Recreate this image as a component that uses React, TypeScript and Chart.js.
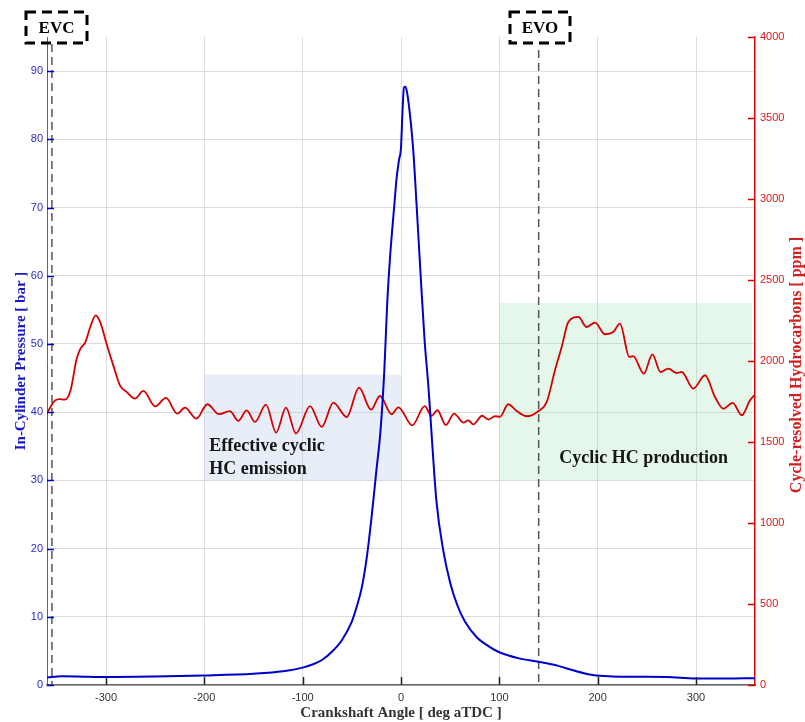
import React, { useEffect, useRef } from "react";
import { Chart, registerables } from "chart.js";

Chart.register(...registerables);

// ---------- data ----------
const pressureAngles = [
  -360, -345, -330, -300, -250, -200, -150, -120, -100, -90, -80, -70, -60, -50, -45, -40, -35, -30,
  -25, -21, -17, -14, -11, -7, -4.4, -2, 0, 1.5, 3, 4.5, 6.5, 9.8, 12.5, 16, 20, 24, 28, 31, 36, 43,
  50, 57, 65, 77, 90, 100, 120, 140, 160, 175, 195, 215, 240, 270, 300, 330, 360,
];
const pressureBar = [
  1.1, 1.27, 1.25, 1.17, 1.25, 1.4, 1.65, 2.0, 2.55, 3.0, 3.7, 4.9, 6.6, 9.3, 11.5, 14.2, 18.5, 24.5,
  31.5, 37, 46, 56, 63, 70, 74.4, 77, 78.8, 84, 87.6, 87.7, 86.6, 82.7, 78.3, 70, 60, 50.5, 43.5, 37,
  27, 19.7, 15, 11.8, 9.3, 7, 5.6, 4.8, 3.9, 3.4, 2.8, 2.15, 1.45, 1.25, 1.2, 1.17, 0.95, 0.95, 1.0,
];

const hcAngles = [
  -360, -352, -347, -342, -336, -330, -326, -321, -316, -310.5, -306, -299, -292.6, -285.8, -279,
  -270.5, -262, -250, -239, -227.5, -219.7, -208, -197, -185, -174, -165.4, -157, -148.5, -137.3,
  -127, -117, -106.8, -92.5, -80.6, -68.8, -55.2, -42.7, -30.5, -21.4, -9.5, -2.7, 11.5, 24, 31.2,
  37, 45.5, 54, 63.4, 68.5, 73.5, 82.5, 88.8, 95.6, 100.7, 109, 117.7, 128, 139.6, 148.2, 156.6,
  163.4, 170.2, 180.3, 188.8, 197.3, 207.5, 215.9, 222.7, 232.2, 236, 247, 255.6, 264, 271.8, 280,
  285.5, 297.3, 309.2, 319.3, 327.8, 337.3, 346.5, 354.9, 360,
];
const hcPpm = [
  1680, 1755, 1765, 1762, 1820, 2010, 2076, 2117, 2210, 2282, 2241, 2097, 1973, 1850, 1809,
  1768, 1815, 1720, 1772, 1675, 1712, 1644, 1733, 1672, 1691, 1630, 1695, 1624, 1731,
  1558, 1712, 1552, 1722, 1593, 1743, 1654, 1836, 1700, 1784, 1671, 1714, 1603, 1721, 1662,
  1696, 1605, 1675, 1620, 1634, 1609, 1662, 1639, 1659, 1656, 1733, 1691, 1659, 1690, 1747, 1943,
  2086, 2241, 2272, 2210, 2237, 2165, 2179, 2231, 2025, 2030, 1922, 2041, 1932, 1953, 1926,
  1932, 1830, 1912, 1778, 1706, 1741, 1665, 1757, 1793,
];

const xTicks = [-300, -200, -100, 0, 100, 200, 300];
const leftTicks = [0, 10, 20, 30, 40, 50, 60, 70, 80, 90];
const rightTicks = [0, 500, 1000, 1500, 2000, 2500, 3000, 3500, 4000];

const evcAngle = -355;
const evoAngle = 140;

// shaded regions: [xStart, xEnd, yLow(bar), yHigh(bar)]
const emissionRegion = [-200, 0, 30, 45.5];
const productionRegion = [100, 357, 30, 56];

const emissionLabel = ["Effective cyclic", "HC emission"];
const productionLabel = "Cyclic HC production";

const xTitle = "Crankshaft Angle [ deg aTDC ]";
const leftTitle = "In-Cylinder Pressure [ bar ]";
const rightTitle = "Cycle-resolved Hydrocarbons [ ppm ]";

// ---------- styles ----------
const SERIF = '"Liberation Serif", "Times New Roman", serif';
const SANS = '"Liberation Sans", Arial, sans-serif';
const BLUE = "#0000cc";
const RED = "#d40000";

const overlayPlugin = {
  id: "overlay",
  beforeDatasetsDraw(chart: any) {
    const { ctx, chartArea, scales } = chart;
    const x = scales.x;
    const y = scales.y;
    ctx.save();
    ctx.beginPath();
    ctx.rect(chartArea.left, chartArea.top, chartArea.right - chartArea.left, chartArea.bottom - chartArea.top);
    ctx.clip();
    const drawRegion = (r: number[], color: string) => {
      const x0 = x.getPixelForValue(r[0]);
      const x1 = x.getPixelForValue(r[1]);
      const y0 = y.getPixelForValue(r[3]);
      const y1 = y.getPixelForValue(r[2]);
      ctx.fillStyle = color;
      ctx.fillRect(x0, y0, x1 - x0, y1 - y0);
    };
    drawRegion(emissionRegion, "rgba(180,198,231,0.30)");
    drawRegion(productionRegion, "rgba(150,220,172,0.25)");

    // EVC / EVO dashed lines
    ctx.strokeStyle = "#555";
    ctx.lineWidth = 1.5;
    ctx.setLineDash([8, 5]);
    const evcX = x.getPixelForValue(evcAngle);
    const evoX = x.getPixelForValue(evoAngle);
    ctx.beginPath();
    ctx.moveTo(evcX, 44);
    ctx.lineTo(evcX, chartArea.bottom);
    ctx.stroke();
    ctx.beginPath();
    ctx.moveTo(evoX, 50);
    ctx.lineTo(evoX, chartArea.bottom);
    ctx.stroke();
    ctx.restore();
  },
  afterDraw(chart: any) {
    const { ctx, chartArea, scales } = chart;
    const x = scales.x;
    const y = scales.y;
    const y1 = scales.y1;
    ctx.save();

    // inward tick marks
    ctx.setLineDash([]);
    ctx.lineWidth = 1.5;
    ctx.strokeStyle = BLUE;
    leftTicks.forEach((v) => {
      const py = Math.round(y.getPixelForValue(v)) + 0.5;
      ctx.beginPath();
      ctx.moveTo(chartArea.left, py);
      ctx.lineTo(chartArea.left + 7, py);
      ctx.stroke();
    });
    ctx.strokeStyle = RED;
    rightTicks.forEach((v) => {
      const py = Math.round(y1.getPixelForValue(v)) + 0.5;
      ctx.beginPath();
      ctx.moveTo(chartArea.right - 7, py);
      ctx.lineTo(chartArea.right, py);
      ctx.stroke();
    });
    ctx.strokeStyle = "#222";
    xTicks.forEach((v) => {
      const px = Math.round(x.getPixelForValue(v)) + 0.5;
      ctx.beginPath();
      ctx.moveTo(px, chartArea.bottom);
      ctx.lineTo(px, chartArea.bottom - 8);
      ctx.stroke();
    });

    // region labels
    ctx.fillStyle = "#151515";
    ctx.font = `bold 18px ${SERIF}`;
    ctx.textAlign = "left";
    ctx.textBaseline = "middle";
    const ex = x.getPixelForValue(emissionRegion[0]) + 5;
    ctx.fillText(emissionLabel[0], ex, 446);
    ctx.fillText(emissionLabel[1], ex, 469);
    ctx.fillText(productionLabel, x.getPixelForValue(productionRegion[0]) + 60, 458);

    // EVC / EVO boxes
    const drawTag = (label: string, bx: number, bw: number) => {
      ctx.setLineDash([10, 6]);
      ctx.lineWidth = 3;
      ctx.strokeStyle = "#000";
      ctx.strokeRect(bx, 12, bw, 31);
      ctx.setLineDash([]);
      ctx.fillStyle = "#000";
      ctx.font = `bold 17px ${SERIF}`;
      ctx.textAlign = "center";
      ctx.textBaseline = "middle";
      ctx.fillText(label, bx + bw / 2, 29);
    };
    drawTag("EVC", 26, 61);
    drawTag("EVO", 510, 60);

    // axis titles
    const midY = (chartArea.top + chartArea.bottom) / 2;
    ctx.textAlign = "center";
    ctx.textBaseline = "middle";
    ctx.font = `bold 15px ${SERIF}`;
    ctx.fillStyle = "#333";
    ctx.fillText(xTitle, (chartArea.left + chartArea.right) / 2, 713);

    ctx.save();
    ctx.translate(21, midY);
    ctx.rotate(-Math.PI / 2);
    ctx.fillStyle = "#1a1ac8";
    ctx.fillText(leftTitle, 0, 0);
    ctx.restore();

    ctx.save();
    ctx.translate(797, midY + 4);
    ctx.rotate(-Math.PI / 2);
    ctx.fillStyle = "#d42020";
    ctx.font = `bold 16px ${SERIF}`;
    ctx.fillText(rightTitle, 0, 0);
    ctx.restore();

    ctx.restore();
  },
};

export default function App() {
  const canvasRef = useRef<HTMLCanvasElement | null>(null);

  useEffect(() => {
    const canvas = canvasRef.current;
    if (!canvas) return;
    const chart = new Chart(canvas, {
      type: "line",
      data: {
        datasets: [
          {
            label: "Pressure",
            data: pressureAngles.map((a, i) => ({ x: a, y: pressureBar[i] })),
            yAxisID: "y",
            borderColor: BLUE,
            borderWidth: 2,
            pointRadius: 0,
            cubicInterpolationMode: "monotone",
            fill: false,
          },
          {
            label: "HC",
            data: hcAngles.map((a, i) => ({ x: a, y: hcPpm[i] })),
            yAxisID: "y1",
            borderColor: RED,
            borderWidth: 1.8,
            pointRadius: 0,
            cubicInterpolationMode: "monotone",
            fill: false,
          },
        ],
      },
      options: {
        responsive: false,
        animation: false,
        layout: { padding: { top: 37, left: 0, right: 0, bottom: 0 } },
        plugins: {
          legend: { display: false },
          tooltip: { enabled: false },
          title: { display: false },
        },
        scales: {
          x: {
            type: "linear",
            position: "bottom",
            min: -360,
            max: 360,
            afterBuildTicks: (s: any) => {
              s.ticks = xTicks.map((v) => ({ value: v }));
            },
            afterFit: (s: any) => {
              s.height = 37;
            },
            grid: { color: "#dcdcdc", lineWidth: 1, drawTicks: false },
            border: { color: "#666", width: 1.5 },
            ticks: {
              padding: 6,
              color: "#333",
              font: { family: SANS, size: 11 },
              maxRotation: 0,
              autoSkip: false,
              callback: (v: any) => String(v),
            },
          },
          y: {
            type: "linear",
            position: "left",
            min: 0,
            max: 95,
            afterBuildTicks: (s: any) => {
              s.ticks = leftTicks.map((v) => ({ value: v }));
            },
            afterFit: (s: any) => {
              s.width = 47;
            },
            grid: { color: "#dcdcdc", lineWidth: 1, drawTicks: false },
            border: { color: "#5555dd", width: 1 },
            ticks: {
              padding: 4,
              color: "#2a2acc",
              font: { family: SANS, size: 11 },
              callback: (v: any) => String(v),
            },
          },
          y1: {
            type: "linear",
            position: "right",
            min: 0,
            max: 4000,
            afterBuildTicks: (s: any) => {
              s.ticks = rightTicks.map((v) => ({ value: v }));
            },
            afterFit: (s: any) => {
              s.width = 50;
            },
            grid: { display: false, drawTicks: false },
            border: { color: "#dd0000", width: 1.5 },
            ticks: {
              padding: 5,
              color: "#e01515",
              font: { family: SANS, size: 11 },
              callback: (v: any) => String(v),
            },
          },
        },
      } as any,
      plugins: [overlayPlugin],
    });
    return () => chart.destroy();
  }, []);

  return (
    <div style={{ position: "absolute", left: 0, top: 0, width: 805, height: 722, background: "#fff" }}>
      <canvas ref={canvasRef} width={805} height={722} style={{ display: "block" }} />
    </div>
  );
}
